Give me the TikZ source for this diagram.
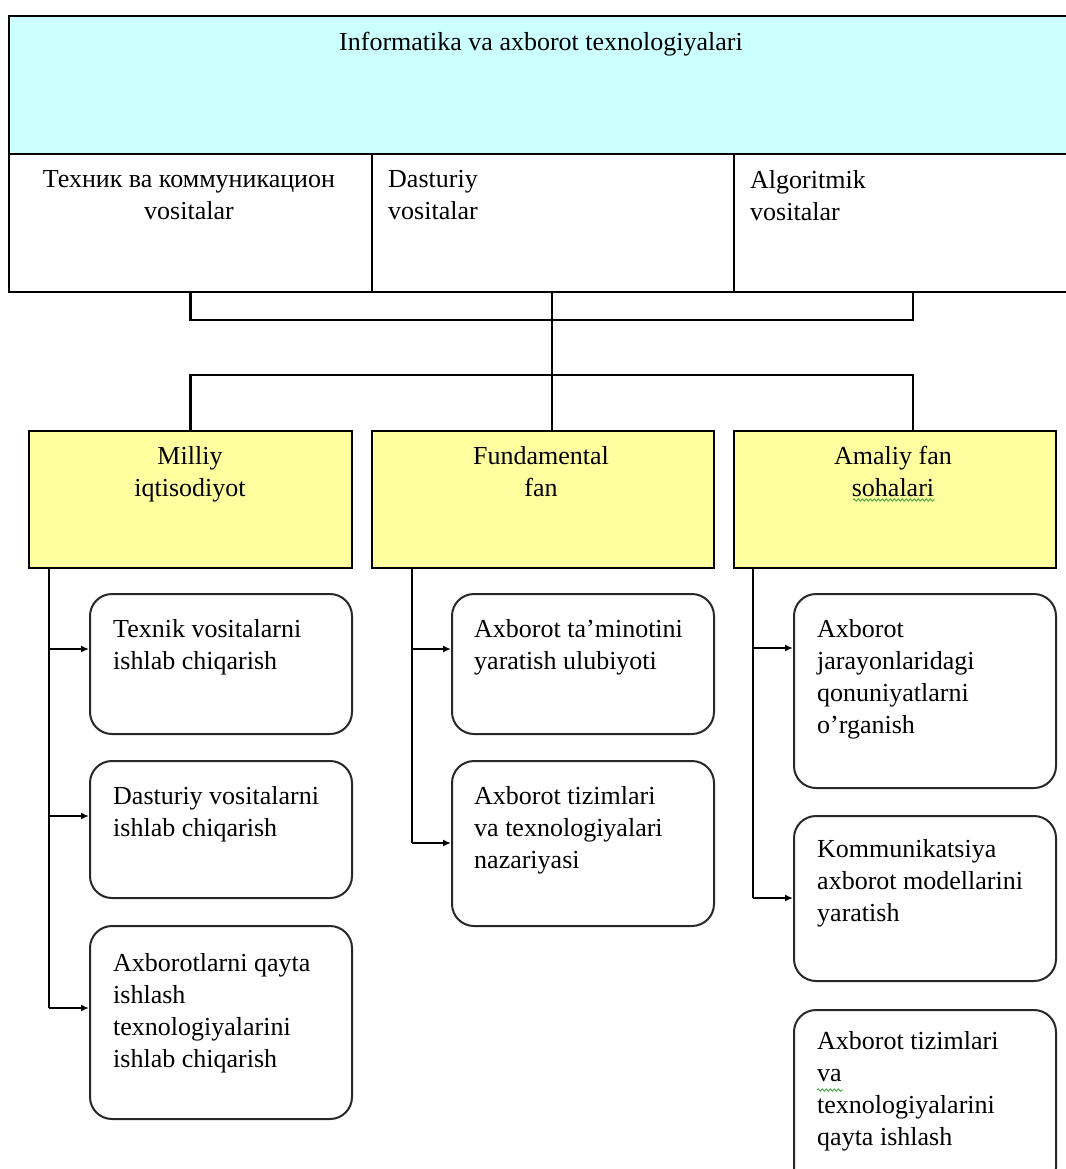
\documentclass[tikz,border=0pt]{standalone}
\usepackage{fontspec}
\setmainfont{Liberation Serif}
\usetikzlibrary{arrows.meta,decorations.pathmorphing}

\definecolor{headcyan}{RGB}{204,255,255}
\definecolor{fieldyellow}{RGB}{255,255,160}
\definecolor{framegray}{RGB}{40,40,40}
\definecolor{spellgreen}{RGB}{60,160,60}

\tikzset{
  block/.style={draw=black, line width=2pt, rectangle, inner sep=0pt, anchor=north west},
  roundbox/.style={draw=framegray, line width=2pt, rectangle, rounded corners=22pt,
                   inner sep=0pt, anchor=north west, fill=white},
  txt/.style={inner sep=0pt, font=\fontsize{26}{32}\selectfont},
  ltxt/.style={txt, anchor=north west, align=left},
  ctxt/.style={txt, anchor=north, align=center},
  conn/.style={draw=black, line width=2.2pt},
  feed/.style={draw=black, line width=2pt, -{Latex[length=8pt,width=7pt]}},
  squiggle/.style={draw=spellgreen, line width=0.8pt,
                   decorate, decoration={snake, amplitude=1.2pt, segment length=4pt}},
}

\begin{document}
\begin{tikzpicture}[x=1pt, y=-1pt]
\useasboundingbox (0,0) rectangle (1065,1169);
\fill[white] (0,0) rectangle (1065,1169);

% header and the three kinds of tools
\node[block, fill=headcyan, minimum width=1067pt, minimum height=138pt] (head) at (8,15) {};
\node[block, fill=white, minimum width=363pt, minimum height=138pt] (tool1) at (8,153) {};
\node[block, fill=white, minimum width=362pt, minimum height=138pt] (tool2) at (371,153) {};
\node[block, fill=white, minimum width=342pt, minimum height=138pt] (tool3) at (733,153) {};

\node[ctxt] (headtxt) at (541,32) {Informatika va axborot texnologiyalari};
\node[ctxt] (tool1txt) at (189,170) {Техник ва коммуникацион\\vositalar};
\node[ltxt] (tool2txt) at (388,170) {Dasturiy\\vositalar};
\node[ltxt] (tool3txt) at (750,170) {Algoritmik\\vositalar};

% three application fields
\node[block, fill=fieldyellow, minimum width=323pt, minimum height=137pt] (field1) at (28,430) {};
\node[block, fill=fieldyellow, minimum width=342pt, minimum height=137pt] (field2) at (371,430) {};
\node[block, fill=fieldyellow, minimum width=322pt, minimum height=137pt] (field3) at (733,430) {};

\node[ctxt] (field1txt) at (190,446) {Milliy\\iqtisodiyot};
\node[ctxt] (field2txt) at (541,446) {Fundamental\\fan};
\node[ctxt] (field3txt) at (893,446) {Amaliy fan\\sohalari};
\coordinate (sqA) at (853,500);
\coordinate (sqB) at (935,500);
\draw[squiggle] (sqA) -- (sqB);

% detail boxes, left column
\node[roundbox, minimum width=262pt, minimum height=140pt] (L1) at (89,593) {};
\node[roundbox, minimum width=262pt, minimum height=137pt] (L2) at (89,760) {};
\node[roundbox, minimum width=262pt, minimum height=193pt] (L3) at (89,925) {};
\node[ltxt] (L1txt) at (113,619) {Texnik vositalarni\\ishlab chiqarish};
\node[ltxt] (L2txt) at (113,786) {Dasturiy vositalarni\\ishlab chiqarish};
\node[ltxt] (L3txt) at (113,953) {Axborotlarni qayta\\ishlash\\texnologiyalarini\\ishlab chiqarish};

% detail boxes, middle column
\node[roundbox, minimum width=262pt, minimum height=140pt] (F1) at (451,593) {};
\node[roundbox, minimum width=262pt, minimum height=165pt] (F2) at (451,760) {};
\node[ltxt] (F1txt) at (474,619) {Axborot ta'minotini\\yaratish ulubiyoti};
\node[ltxt] (F2txt) at (474,786) {Axborot tizimlari\\va texnologiyalari\\nazariyasi};

% detail boxes, right column
\node[roundbox, minimum width=262pt, minimum height=194pt] (A1) at (793,593) {};
\node[roundbox, minimum width=262pt, minimum height=165pt] (A2) at (793,815) {};
\node[roundbox, minimum width=262pt, minimum height=180pt] (A3) at (793,1009) {};
\node[ltxt] (A1txt) at (817,619) {Axborot\\jarayonlaridagi\\qonuniyatlarni\\o’rganish};
\node[ltxt] (A2txt) at (817,839) {Kommunikatsiya\\axborot modellarini\\yaratish};
\node[ltxt] (A3txt) at (817,1031) {Axborot tizimlari\\va\\texnologiyalarini\\qayta ishlash};
\coordinate (sqC) at (817,1090);
\coordinate (sqD) at (843,1090);
\draw[squiggle] (sqC) -- (sqD);

% bus between the tools and the fields
\coordinate (t3) at (913,291);
\coordinate (busA) at (552,320);
\coordinate (busB) at (552,375);
\coordinate (f3) at (913,430);
\draw[conn] (tool1.south) |- (busA) -| (t3);
\draw[conn] (tool2.south -| busA) -- (busB);
\draw[conn] (field1.north) |- (busB) -| (f3);
\draw[conn] (busB) -- (field2.north -| busB);

% left trunk
\coordinate (lt0) at (49,567);
\coordinate (lt1) at (49,649);
\coordinate (lt2) at (49,816);
\coordinate (lt3) at (49,1008);
\draw[conn] (lt0) -- (lt3);
\draw[feed, line width=2.6pt] (lt1) -- (lt1 -| L1.west);
\draw[feed] (lt2) -- (lt2 -| L2.west);
\draw[feed] (lt3) -- (lt3 -| L3.west);

% middle trunk
\coordinate (mt0) at (412,567);
\coordinate (mt1) at (412,649);
\coordinate (mt2) at (412,843);
\draw[conn] (mt0) -- (mt2);
\draw[feed] (mt1) -- (mt1 -| F1.west);
\draw[feed] (mt2) -- (mt2 -| F2.west);

% right trunk
\coordinate (rt0) at (753,567);
\coordinate (rt1) at (753,648);
\coordinate (rt2) at (753,898);
\draw[conn] (rt0) -- (rt2);
\draw[feed] (rt1) -- (rt1 -| A1.west);
\draw[feed] (rt2) -- (rt2 -| A2.west);
\end{tikzpicture}
\end{document}
